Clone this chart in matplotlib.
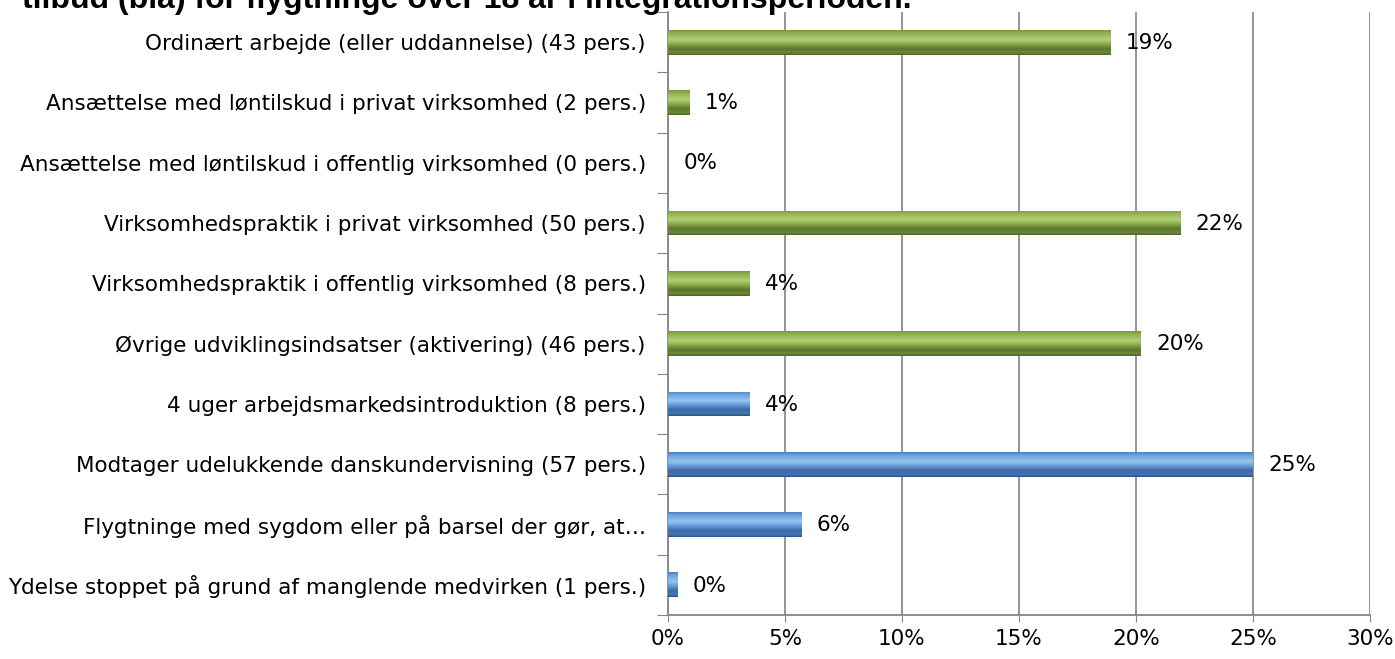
import numpy as np
import matplotlib
matplotlib.use("Agg")
import matplotlib.pyplot as plt
from matplotlib.colors import LinearSegmentedColormap

categories = [
    "Ordinært arbejde (eller uddannelse) (43 pers.)",
    "Ansættelse med løntilskud i privat virksomhed (2 pers.)",
    "Ansættelse med løntilskud i offentlig virksomhed (0 pers.)",
    "Virksomhedspraktik i privat virksomhed (50 pers.)",
    "Virksomhedspraktik i offentlig virksomhed (8 pers.)",
    "Øvrige udviklingsindsatser (aktivering) (46 pers.)",
    "4 uger arbejdsmarkedsintroduktion (8 pers.)",
    "Modtager udelukkende danskundervisning (57 pers.)",
    "Flygtninge med sygdom eller på barsel der gør, at…",
    "Ydelse stoppet på grund af manglende medvirken (1 pers.)",
]
percent = [18.9, 0.9, 0.0, 21.9, 3.5, 20.2, 3.5, 25.0, 5.7, 0.4]
group = ["green"] * 6 + ["blue"] * 4
xticks = [0, 5, 10, 15, 20, 25, 30]
title = "tilbud (blå) for flygtninge over 18 år i integrationsperioden."

FONT = "DejaVu Sans"
FS = 15.5

# bevel-ish vertical gradients (top -> bottom)
stops = [0.0, 0.12, 0.38, 0.55, 0.75, 0.9, 1.0]
cmaps = {
    "green": LinearSegmentedColormap.from_list("g", list(zip(stops, [
        "#789838", "#8fb04e", "#b1cf78", "#8dac4b", "#5a762c", "#6c8a38", "#4a6522"]))),
    "blue": LinearSegmentedColormap.from_list("b", list(zip(stops, [
        "#4c7fbb", "#6aa1dc", "#98c4f0", "#669cd8", "#3a68a4", "#4877b1", "#2a4f80"]))),
}

fig = plt.figure(figsize=(13.95, 6.59), dpi=100)
ax = fig.add_axes([668 / 1395, 1 - 615 / 659, 702 / 1395, 603 / 659])

y = np.arange(len(categories))
bars = ax.barh(y, percent, height=0.41, color="none", linewidth=0, zorder=3)
grad = np.linspace(0, 1, 128).reshape(-1, 1)
for b, g in zip(bars, group):
    if b.get_width() <= 0:
        continue
    x0, y0 = b.get_x(), b.get_y()
    w, h = b.get_width(), b.get_height()
    im = ax.imshow(grad, cmap=cmaps[g], aspect="auto", zorder=3,
                   extent=[x0, x0 + w, y0 + h, y0], interpolation="bilinear")
    im.set_clip_path(b)

for yi, v in zip(y, percent):
    ax.annotate(f"{v:.0f}%", (v, yi), xytext=(11, -0.5), textcoords="offset points",
                va="center", ha="left", fontsize=FS, family=FONT, zorder=5)

ax.set_xlim(0, 30)
ax.set_ylim(len(categories) - 0.5, -0.5)
ax.set_xticks(xticks)
ax.set_xticklabels([f"{t}%" for t in xticks], family=FONT, fontsize=FS)
ax.tick_params(axis="x", length=5, color="#868686", pad=5)

ax.set_yticks(np.arange(len(categories) + 1) - 0.5)
ax.set_yticklabels([])
ax.tick_params(axis="y", which="major", length=8, color="#868686")
ax.set_yticks(y, minor=True)
ax.set_yticklabels(categories, minor=True, family=FONT, fontsize=FS)
ax.tick_params(axis="y", which="minor", length=0, pad=16)

ax.grid(axis="x", color="#8c8c8c", linewidth=1.3, zorder=0)
ax.set_axisbelow(True)
for s in ["top", "right"]:
    ax.spines[s].set_visible(False)
for s in ["left", "bottom"]:
    ax.spines[s].set_color("#868686")
    ax.spines[s].set_linewidth(1.3)

fig.text(22 / 1395, 1 - 8 / 659, title, family="Liberation Sans", weight="bold",
         fontsize=23, va="baseline", ha="left")

fig.savefig("out.png", dpi=100)
